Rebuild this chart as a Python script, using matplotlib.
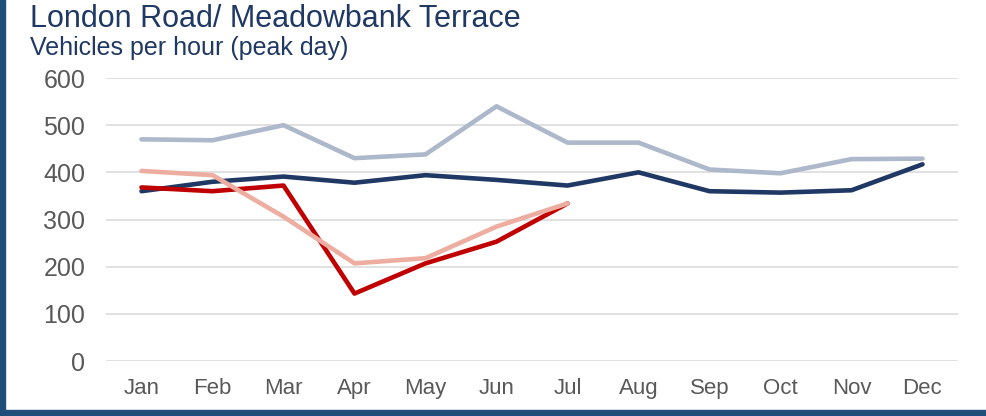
import matplotlib
matplotlib.use("Agg")
import matplotlib.pyplot as plt
from matplotlib.patches import Rectangle

plt.rcParams['font.family'] = ['Liberation Sans', 'DejaVu Sans']

# months on the x axis
months = ["Jan", "Feb", "Mar", "Apr", "May", "Jun",
          "Jul", "Aug", "Sep", "Oct", "Nov", "Dec"]

# series (vehicles per hour, peak day)
pale_blue = [470, 468, 500, 430, 438, 540, 463, 463, 406, 398, 428, 429]
navy = [360, 380, 391, 378, 394, 384, 372, 400, 360, 357, 362, 417]
red = [368, 360, 372, 143, 207, 253, 334]
pink = [403, 394, 306, 207, 218, 285, 334]

y_ticks = [0, 100, 200, 300, 400, 500, 600]

fig = plt.figure(figsize=(9.86, 4.16), dpi=100)
ax = fig.add_axes([0.1075, 0.1322, 0.8641, 0.6803])

x_all = list(range(len(months)))
lw = 3.3
ax.plot(x_all, pale_blue, color="#ADB9CA", lw=lw, solid_capstyle="round", zorder=3)
ax.plot(x_all, navy, color="#203864", lw=lw, solid_capstyle="round", zorder=4)
ax.plot(x_all[:len(red)], red, color="#C00000", lw=lw, solid_capstyle="round", zorder=5)
ax.plot(x_all[:len(pink)], pink, color="#EDADA0", lw=lw, solid_capstyle="round", zorder=6)

ax.set_xlim(-0.5, 11.5)
ax.set_ylim(0, 600)
ax.set_yticks(y_ticks)
ax.set_xticks(x_all)
ax.set_xticklabels(months)
ax.grid(axis="y", color="#D9D9D9", lw=1.1)
ax.set_axisbelow(True)
for s in ax.spines.values():
    s.set_visible(False)
ax.tick_params(axis="both", length=0, labelcolor="#595959")
ax.tick_params(axis="y", pad=15, labelsize=18)
ax.tick_params(axis="x", pad=12, labelsize=16)

fig.text(0.030, 0.935, "London Road/ Meadowbank Terrace", fontsize=22,
         color="#1F3864", va="baseline", ha="left")
fig.text(0.030, 0.868, "Vehicles per hour (peak day)", fontsize=18,
         color="#1F3864", va="baseline", ha="left")

# frame on left and bottom edges
fig.patches.append(Rectangle((0, 0), 0.0055, 1, transform=fig.transFigure,
                             color="#1F4E79", zorder=10))
fig.patches.append(Rectangle((0, 0), 1, 0.015, transform=fig.transFigure,
                             color="#1F4E79", zorder=10))

fig.savefig("out.png", dpi=100)
